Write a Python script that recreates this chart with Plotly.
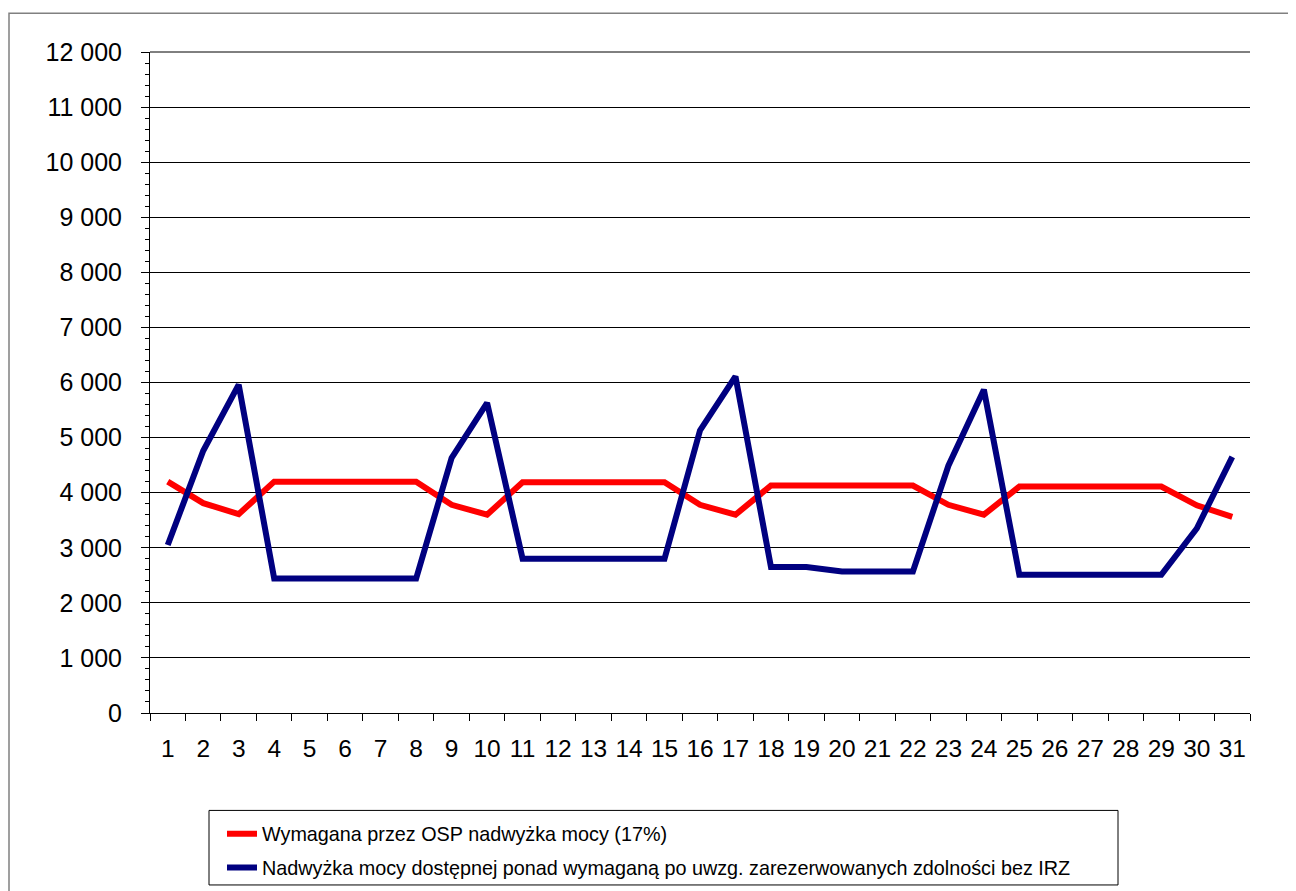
import plotly.graph_objects as go

days = [str(d) for d in range(1, 32)]
required = [4200, 3810, 3610, 4200, 4200, 4200, 4200, 4200, 3780, 3600, 4190, 4190, 4190, 4190, 4190,
            3780, 3600, 4130, 4130, 4130, 4130, 4130, 3780, 3600, 4110, 4110, 4110, 4110, 4110, 3770, 3560]
surplus = [3050, 4760, 5960, 2440, 2440, 2440, 2440, 2440, 4630, 5630, 2800, 2800, 2800, 2800, 2800,
           5130, 6110, 2650, 2650, 2570, 2570, 2570, 4490, 5870, 2510, 2510, 2510, 2510, 2510, 3350, 4650]
name_required = "Wymagana przez OSP nadwyżka mocy (17%)"
name_surplus = "Nadwyżka mocy dostępnej ponad wymaganą po uwzg. zarezerwowanych zdolności bez IRZ"

FONT = "Arial, 'Liberation Sans', sans-serif"
W, H = 1296, 891
OFF = 8  # page offset of the figure in the browser
L, R, T, B = 142, 54, 44, 182
pw, ph = W - L - R, H - T - B

def px(x):  # screen x -> paper
    return (x - OFF - L) / pw

def py(y):  # screen y -> paper
    return (H - B - (y - OFF)) / ph

fig = go.Figure()
fig.add_trace(go.Scatter(x=days, y=required, mode="lines", name=name_required,
                         line=dict(color="#FF0000", width=6), legend="legend"))
fig.add_trace(go.Scatter(x=days, y=surplus, mode="lines", name=name_surplus,
                         line=dict(color="#000080", width=6), legend="legend2"))

legfont = dict(size=19.8, family=FONT, color="black")
fig.update_layout(
    width=W, height=H,
    margin=dict(l=L, r=R, t=T, b=B),
    paper_bgcolor="white", plot_bgcolor="white",
    separators=", ",
    font=dict(family=FONT, color="black"),
    showlegend=True,
    legend=dict(x=px(222), y=py(819), xanchor="left", yanchor="top",
                bgcolor="rgba(0,0,0,0)", borderwidth=0, font=legfont, itemwidth=30),
    legend2=dict(x=px(222), y=py(853), xanchor="left", yanchor="top",
                 bgcolor="rgba(0,0,0,0)", borderwidth=0, font=legfont, itemwidth=30),
    xaxis=dict(type="category", tickson="boundaries", ticks="outside", ticklen=7,
               tickcolor="black", showline=True, linecolor="black", linewidth=1,
               showgrid=False, tickfont=dict(size=24.5, family=FONT, color="black"),
               tickangle=0, ticklabelstandoff=14, range=[-0.5, 30.5], fixedrange=True),
    yaxis=dict(range=[0, 12000], dtick=1000, tickformat=",d", ticks="outside", ticklen=8,
               tickcolor="black", showline=True, linecolor="black", linewidth=1,
               showgrid=True, gridcolor="#000000", gridwidth=1, zeroline=False,
               tickfont=dict(size=25, family=FONT, color="black"), ticklabelstandoff=14,
               minor=dict(dtick=200, ticks="outside", ticklen=4, tickcolor="black", showgrid=False)),
)

# top gridline at 12 000 (hidden by plotly at the range edge)
fig.add_shape(type="line", xref="paper", yref="paper", x0=0, x1=1, y0=1, y1=1,
              line=dict(color="black", width=1))
# outer chart border
fig.add_shape(type="rect", xref="paper", yref="paper",
              x0=px(9), y0=py(13), x1=px(1320), y1=py(915),
              line=dict(color="#808080", width=1.5), fillcolor="rgba(0,0,0,0)", layer="below")
# legend box
fig.add_shape(type="rect", xref="paper", yref="paper",
              x0=px(209), y0=py(815), x1=px(1118), y1=py(890),
              line=dict(color="black", width=1), fillcolor="rgba(0,0,0,0)")

fig.write_html("out.html")
